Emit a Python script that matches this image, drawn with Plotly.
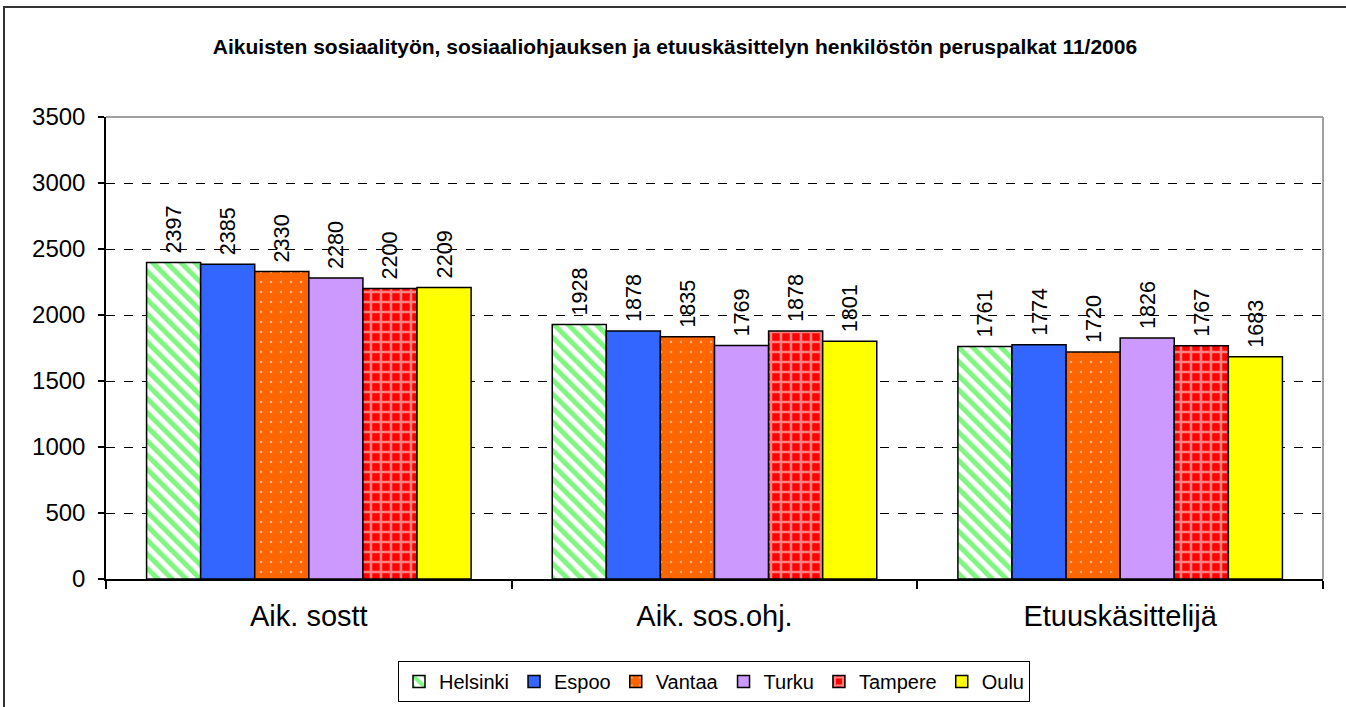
import plotly.graph_objects as go

categories = ["Aik. sostt", "Aik. sos.ohj.", "Etuuskäsittelijä"]
cities = ["Helsinki", "Espoo", "Vantaa", "Turku", "Tampere", "Oulu"]
helsinki = [2397, 1928, 1761]
espoo = [2385, 1878, 1774]
vantaa = [2330, 1835, 1720]
turku = [2280, 1769, 1826]
tampere = [2200, 1878, 1767]
oulu = [2209, 1801, 1683]
series = [helsinki, espoo, vantaa, turku, tampere, oulu]
y_ticks = [0, 500, 1000, 1500, 2000, 2500, 3000, 3500]
title_text = "Aikuisten sosiaalityön, sosiaaliohjauksen ja etuuskäsittelyn henkilöstön peruspalkat 11/2006"

patterns = [
    dict(shape="\\", fgcolor="#00EE00", bgcolor="#FFFFFF", size=10, solidity=0.5),
    dict(shape="", bgcolor="#3366FF", fgcolor="#3366FF"),
    dict(shape=".", fgcolor="#FFFFFF", bgcolor="#FF6600", size=10, solidity=0.05),
    dict(shape="", bgcolor="#CC99FF", fgcolor="#CC99FF"),
    dict(shape="+", fgcolor="#FFFFFF", bgcolor="#FF0000", size=10, solidity=0.45),
    dict(shape="", bgcolor="#FFFF00", fgcolor="#FFFF00"),
]
colors = ["#FFFFFF", "#3366FF", "#FF6600", "#CC99FF", "#FF0000", "#FFFF00"]

FONT = "Arial, Liberation Sans, sans-serif"

fig = go.Figure()
for name, vals, pat, col in zip(cities, series, patterns, colors):
    fig.add_trace(go.Bar(
        name=name, x=categories, y=vals,
        marker=dict(color=col, line=dict(color="black", width=1.5), pattern=pat),
        text=["\u00a0" + str(v) for v in vals], textposition="outside", textangle=-90,
        textfont=dict(family=FONT, size=23, color="black"),
        cliponaxis=False,
    ))

W, H = 1346, 707
L, T = 106, 117
R = W - 1323
B = H - 579
pw = W - L - R
ph = H - T - B

fig.update_layout(
    width=W, height=H,
    margin=dict(l=L, r=R, t=T, b=B, autoexpand=False),
    paper_bgcolor="white", plot_bgcolor="white",
    barmode="group", bargap=0.2, bargroupgap=0,
    font=dict(family=FONT, color="black"),
    title=dict(text="<b>" + title_text + "</b>", x=675 / W, xanchor="center",
               y=1 - 47 / H, yanchor="middle",
               font=dict(size=21, family=FONT, color="black")),
    showlegend=True,
    legend=dict(orientation="h", x=(714 - L) / pw, xanchor="center",
                y=(ph - (661 - T)) / ph, yanchor="top",
                bordercolor="black", borderwidth=1, bgcolor="white",
                font=dict(size=20, family=FONT),
                itemwidth=30, tracegroupgap=0, traceorder="normal"),
)
fig.update_xaxes(showline=True, linecolor="black", linewidth=1.5, ticks="outside",
                 tickson="boundaries", ticklen=8, tickcolor="black", tickwidth=1.5,
                 tickfont=dict(size=29), ticklabelstandoff=10, showgrid=False, range=[-0.5, 2.5])
fig.update_yaxes(range=[0, 3500], tickvals=y_ticks, showline=True, linecolor="black", linewidth=1.5,
                 ticks="outside", ticklen=6, tickcolor="black", tickwidth=1.5,
                 tickfont=dict(size=24), ticklabelstandoff=8, showgrid=True, gridcolor="black", gridwidth=1,
                 griddash="dash", zeroline=False)

fig.add_shape(type="line", xref="paper", yref="paper", x0=0, x1=1, y0=1, y1=1,
              line=dict(color="#A0A0A0", width=2), layer="above")
fig.add_shape(type="line", xref="paper", yref="paper", x0=1, x1=1, y0=0, y1=1,
              line=dict(color="#A0A0A0", width=2), layer="above")
# outer chart frame (left and top edges visible)
fig.add_shape(type="rect", xref="paper", yref="paper",
              x0=(4 - L) / pw, x1=(W + 20 - L) / pw,
              y0=(ph - (H + 20 - T)) / ph, y1=(ph - (7 - T)) / ph,
              line=dict(color="#333333", width=2), fillcolor="rgba(0,0,0,0)", layer="below")

fig.write_html(
    "out.html",
    config={"displayModeBar": False},
    post_script="document.body.style.margin='0';"
                "document.body.style.overflow='hidden';"
                "document.documentElement.style.overflow='hidden';",
)
